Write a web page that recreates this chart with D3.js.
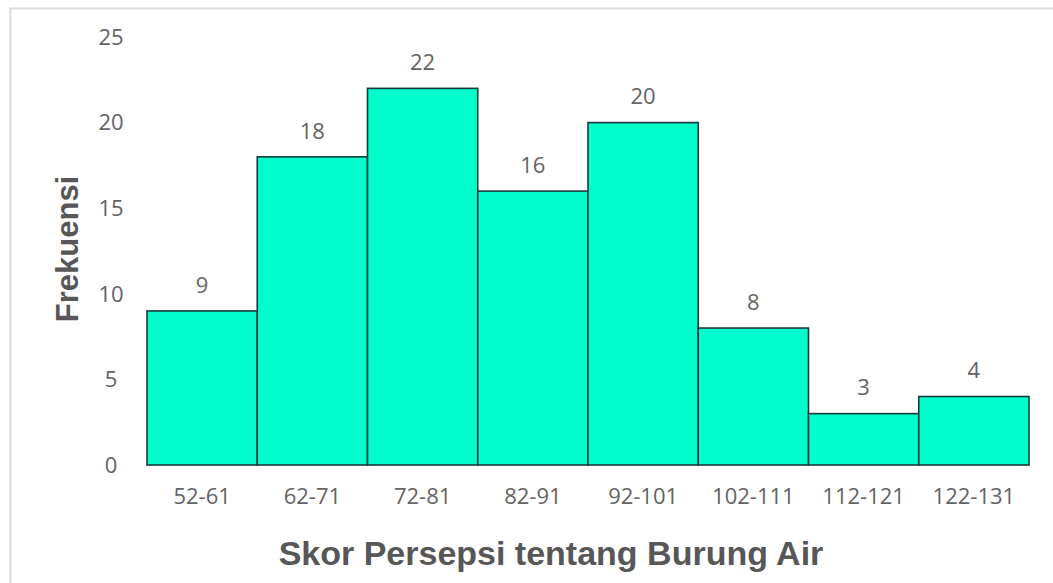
<!DOCTYPE html>
<html>
<head>
<meta charset="utf-8">
<script src="https://cdn.jsdelivr.net/npm/d3@7"></script>
<style>
  body { margin: 0; background: #fff; }
  text { font-family: "Open Sans", "Noto Sans", sans-serif; fill: #636363; }
  .tick-lbl { font-size: 22px; }
  .axis-title { font-family: "Liberation Sans", Arial, sans-serif; font-weight: bold; fill: #575757; }
</style>
</head>
<body>
<svg id="chart" width="1053" height="583"></svg>
<script>
// data
var categories = ['52-61', '62-71', '72-81', '82-91', '92-101', '102-111', '112-121', '122-131'];
var frequencies = [9, 18, 22, 16, 20, 8, 3, 4];
var yTicks = [0, 5, 10, 15, 20, 25];

var svg = d3.select('#chart');

// outer frame
svg.append('rect')
  .attr('x', 10.5).attr('y', 8.5)
  .attr('width', 1060).attr('height', 600)
  .attr('fill', 'none')
  .attr('stroke', '#d9d9d9')
  .attr('stroke-width', 2);

var plotLeft = 147, plotRight = 1029, plotTop = 37, plotBottom = 465;

var scaleX = d3.scaleBand()
  .domain(categories)
  .range([plotLeft, plotRight])
  .padding(0);

var scaleY = d3.scaleLinear()
  .domain([0, 25])
  .range([plotBottom, plotTop]);

// y tick labels
svg.selectAll('.ytick')
  .data(yTicks)
  .enter().append('text')
  .attr('class', 'tick-lbl')
  .attr('x', 111)
  .attr('y', function(d){ return scaleY(d); })
  .attr('text-anchor', 'middle')
  .attr('dy', '0.35em')
  .text(function(d){ return d; });

// bars
svg.selectAll('.bar')
  .data(frequencies)
  .enter().append('rect')
  .attr('x', function(d, i){ return scaleX(categories[i]); })
  .attr('y', function(d){ return scaleY(d); })
  .attr('width', scaleX.bandwidth())
  .attr('height', function(d){ return plotBottom - scaleY(d); })
  .attr('fill', '#00fdcb')
  .attr('stroke', '#17393a')
  .attr('stroke-width', 1.6);

// value labels
svg.selectAll('.val')
  .data(frequencies)
  .enter().append('text')
  .attr('class', 'tick-lbl')
  .attr('x', function(d, i){ return scaleX(categories[i]) + scaleX.bandwidth() / 2; })
  .attr('y', function(d){ return scaleY(d) - 26; })
  .attr('text-anchor', 'middle')
  .attr('dy', '0.35em')
  .text(function(d){ return d; });

// x tick labels
svg.selectAll('.xtick')
  .data(categories)
  .enter().append('text')
  .attr('class', 'tick-lbl')
  .attr('x', function(d){ return scaleX(d) + scaleX.bandwidth() / 2; })
  .attr('y', 496)
  .attr('text-anchor', 'middle')
  .attr('dy', '0.35em')
  .text(function(d){ return d; });

// axis titles
svg.append('text')
  .attr('class', 'axis-title')
  .style('font-size', '34px')
  .attr('x', 551)
  .attr('y', 553)
  .attr('text-anchor', 'middle')
  .attr('dy', '0.35em')
  .text('Skor Persepsi tentang Burung Air');

svg.append('text')
  .attr('class', 'axis-title')
  .style('font-size', '31px')
  .attr('transform', 'translate(67,249) rotate(-90)')
  .attr('text-anchor', 'middle')
  .attr('dy', '0.35em')
  .text('Frekuensi');
</script>
</body>
</html>
